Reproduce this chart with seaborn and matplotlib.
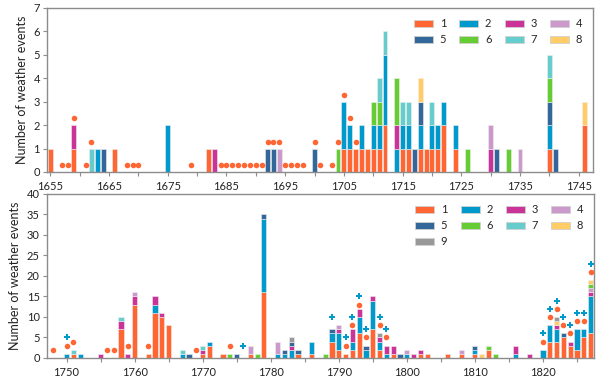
import pandas as pd
import matplotlib.pyplot as plt
from matplotlib.patches import Patch
import seaborn as sns

# event type colours (1..9)
type_colors = {
    '1': '#FF6633', '2': '#0099CC', '3': '#CC3399', '4': '#CC99CC',
    '5': '#336699', '6': '#66CC33', '7': '#66CCCC', '8': '#FFCC66',
    '9': '#999999',
}

# ---- upper panel: 1655-1746 ----
top_years = [1655, 1659, 1662, 1663, 1664, 1666, 1675, 1682, 1683, 1692,
             1693, 1694, 1700, 1704, 1705, 1706, 1707, 1708, 1709, 1710,
             1711, 1712, 1714, 1715, 1716, 1717, 1718, 1719, 1720, 1721,
             1722, 1724, 1726, 1730, 1731, 1733, 1735, 1740, 1741, 1746]
top_t1 = [1, 1, 0, 0, 0, 1, 0, 1, 0, 0, 0, 0, 0, 0, 1, 1, 1, 1, 1, 1,
          1, 2, 0, 1, 1, 0, 1, 1, 1, 1, 2, 1, 0, 0, 0, 0, 0, 1, 0, 2]
top_t2 = [0, 0, 0, 1, 0, 0, 2, 0, 0, 0, 0, 0, 0, 0, 2, 1, 0, 1, 0, 1,
          1, 3, 1, 1, 1, 0, 1, 0, 1, 1, 1, 1, 0, 0, 0, 0, 0, 1, 0, 0]
top_t3 = [0, 1, 0, 0, 0, 0, 0, 0, 1, 0, 0, 0, 0, 0, 0, 0, 0, 0, 0, 0,
          0, 0, 1, 0, 0, 0, 0, 0, 0, 0, 0, 0, 0, 1, 0, 0, 0, 0, 0, 0]
top_t4 = [0, 0, 0, 0, 0, 0, 0, 0, 0, 0, 0, 1, 0, 0, 0, 0, 0, 0, 0, 0,
          0, 0, 0, 0, 0, 0, 0, 0, 0, 0, 0, 0, 0, 1, 0, 0, 1, 0, 0, 0]
top_t5 = [0, 0, 0, 0, 1, 0, 0, 0, 0, 1, 1, 0, 1, 0, 0, 0, 0, 0, 0, 0,
          0, 0, 0, 0, 0, 1, 1, 0, 0, 0, 0, 0, 0, 0, 1, 0, 0, 1, 1, 0]
top_t6 = [0, 0, 0, 0, 0, 0, 0, 0, 0, 0, 0, 0, 0, 1, 0, 0, 0, 0, 0, 1,
          1, 0, 2, 0, 0, 0, 0, 0, 0, 0, 0, 0, 1, 0, 0, 1, 0, 1, 0, 0]
top_t7 = [0, 0, 1, 0, 0, 0, 0, 0, 0, 0, 0, 0, 0, 0, 0, 0, 0, 0, 0, 0,
          1, 1, 0, 1, 1, 0, 0, 0, 1, 0, 0, 0, 0, 0, 0, 0, 0, 1, 0, 0]
top_t8 = [0, 0, 0, 0, 0, 0, 0, 0, 0, 0, 0, 0, 0, 0, 0, 0, 0, 0, 0, 0,
          0, 0, 0, 0, 0, 0, 1, 0, 0, 0, 0, 0, 0, 0, 0, 0, 0, 0, 0, 1]

top_dot_years = [1657, 1658, 1659, 1661, 1662, 1668, 1669, 1670, 1679,
                 1684, 1685, 1686, 1687, 1688, 1689, 1690, 1691, 1692,
                 1693, 1694, 1695, 1696, 1697, 1698, 1700, 1701, 1703,
                 1704, 1705, 1706, 1707]
top_dot_vals = [0.3, 0.3, 2.3, 0.3, 1.3, 0.3, 0.3, 0.3, 0.3,
                0.3, 0.3, 0.3, 0.3, 0.3, 0.3, 0.3, 0.3, 1.3,
                1.3, 1.3, 0.3, 0.3, 0.3, 0.3, 1.3, 0.3, 0.3,
                1.3, 3.3, 2.3, 1.3]

# ---- lower panel: 1748-1827 ----
bot_years = [1750, 1751, 1752, 1755, 1758, 1759, 1760, 1762, 1763, 1764,
             1765, 1767, 1768, 1770, 1771, 1773, 1774, 1775, 1777, 1778,
             1779, 1781, 1782, 1783, 1784, 1786, 1788, 1789, 1790, 1791,
             1792, 1793, 1794, 1795, 1796, 1797, 1798, 1799, 1800, 1801,
             1802, 1803, 1806, 1808, 1810, 1811, 1812, 1813, 1816, 1818,
             1820, 1821, 1822, 1823, 1824, 1825, 1826, 1827]
bot_t1 = [0, 1, 0, 0, 7, 0, 13, 1, 11, 10,
          8, 0, 0, 1, 3, 1, 0, 0, 1, 0,
          16, 0, 0, 0, 1, 1, 0, 4, 2, 1,
          2, 6, 0, 7, 2, 0, 1, 0, 0, 0,
          1, 1, 1, 1, 1, 0, 2, 0, 0, 0,
          0, 4, 4, 5, 3, 2, 5, 6]
bot_t2 = [1, 0, 1, 0, 0, 0, 0, 0, 2, 0,
          0, 1, 0, 0, 1, 0, 0, 0, 0, 0,
          18, 1, 1, 2, 0, 3, 0, 2, 4, 0,
          2, 4, 2, 7, 2, 1, 0, 0, 1, 0,
          0, 0, 0, 0, 1, 0, 0, 0, 1, 0,
          2, 4, 3, 0, 0, 5, 2, 9]
bot_t3 = [0, 0, 0, 1, 2, 1, 2, 0, 2, 1,
          0, 0, 0, 1, 0, 0, 0, 0, 0, 0,
          0, 0, 0, 1, 0, 0, 0, 0, 1, 0,
          3, 2, 0, 1, 1, 2, 2, 0, 0, 1,
          1, 0, 0, 0, 0, 0, 0, 0, 2, 1,
          0, 0, 1, 0, 1, 0, 0, 1]
bot_t4 = [0, 0, 0, 0, 0, 0, 1, 0, 0, 0,
          0, 0, 0, 0, 0, 0, 0, 0, 2, 0,
          0, 3, 0, 0, 0, 0, 0, 0, 1, 0,
          0, 0, 0, 0, 0, 0, 0, 0, 1, 0,
          0, 0, 0, 1, 0, 0, 0, 0, 0, 0,
          0, 0, 0, 0, 0, 0, 0, 1]
bot_t5 = [0, 0, 0, 0, 0, 0, 0, 0, 0, 0,
          0, 0, 1, 0, 0, 0, 0, 1, 0, 0,
          1, 0, 1, 1, 1, 0, 0, 1, 0, 0,
          0, 0, 1, 0, 0, 0, 0, 1, 0, 0,
          0, 0, 0, 0, 1, 0, 0, 0, 0, 0,
          0, 0, 0, 1, 0, 0, 0, 0]
bot_t6 = [0, 0, 0, 0, 0, 0, 0, 0, 0, 0,
          0, 0, 0, 0, 0, 0, 1, 0, 0, 1,
          0, 0, 0, 0, 0, 0, 1, 0, 0, 0,
          0, 0, 0, 0, 0, 0, 0, 0, 0, 0,
          0, 0, 0, 0, 0, 0, 1, 1, 0, 0,
          0, 0, 0, 0, 0, 0, 0, 1]
bot_t7 = [0, 1, 0, 0, 1, 0, 0, 0, 0, 0,
          0, 1, 0, 1, 0, 0, 0, 0, 0, 0,
          0, 0, 0, 0, 0, 0, 0, 0, 0, 0,
          0, 0, 0, 0, 0, 0, 0, 0, 0, 0,
          0, 0, 0, 0, 0, 0, 0, 0, 0, 0,
          0, 0, 0, 0, 0, 0, 0, 0]
bot_t8 = [0, 0, 0, 0, 0, 0, 0, 0, 0, 0,
          0, 0, 0, 0, 0, 0, 0, 0, 0, 0,
          0, 0, 0, 0, 0, 0, 0, 0, 0, 0,
          0, 0, 0, 0, 0, 0, 0, 0, 0, 0,
          0, 0, 0, 0, 0, 1, 0, 0, 0, 0,
          0, 0, 1, 0, 0, 0, 0, 1]
bot_t9 = [0, 0, 0, 0, 0, 0, 0, 0, 0, 0,
          0, 0, 0, 0, 0, 0, 0, 0, 0, 0,
          0, 0, 0, 1, 0, 0, 0, 0, 0, 0,
          0, 0, 0, 0, 1, 0, 0, 0, 0, 0,
          0, 0, 0, 0, 0, 0, 0, 0, 0, 0,
          0, 0, 1, 0, 0, 0, 0, 0]

bot_dot_years = [1748, 1750, 1751, 1756, 1757, 1759, 1762, 1769, 1774,
                 1791, 1792, 1793, 1794, 1796, 1797, 1820, 1821, 1822,
                 1823, 1824, 1825, 1826, 1827]
bot_dot_vals = [2, 3, 4, 2, 2, 3, 3, 2, 3,
                3, 8, 13, 5, 8, 5, 4, 10, 12,
                8, 6, 9, 9, 21]
bot_plus_years = [1750, 1776, 1789, 1791, 1792, 1793, 1794, 1796, 1797,
                  1820, 1821, 1822, 1823, 1824, 1825, 1826, 1827]
bot_plus_vals = [5, 3, 10, 5, 10, 15, 7, 10, 7,
                 6, 12, 14, 10, 8, 11, 11, 23]


def to_long(years, series):
    rows = []
    for name, counts in series.items():
        for y, c in zip(years, counts):
            if c > 0:
                rows.append({'year': y, 'type': name, 'count': c})
    return pd.DataFrame(rows)


def draw_panel(ax, df, types, shrink):
    # seaborn stacks the first hue level on top, so reverse the order
    sns.histplot(data=df, x='year', weights='count', hue='type',
                 hue_order=types[::-1], palette=type_colors,
                 multiple='stack', discrete=True, shrink=shrink,
                 alpha=1, linewidth=0.4, edgecolor='#eeeeee',
                 legend=False, ax=ax)
    for p in ax.patches:
        if p.get_height() == 0:
            p.set_visible(False)
    # legend filled row by row (matplotlib fills columns first)
    order = []
    ncol = 4
    nrows = -(-len(types) // ncol)
    for c in range(ncol):
        for r in range(nrows):
            i = r * ncol + c
            if i < len(types):
                order.append(types[i])
    handles = [Patch(facecolor=type_colors[t], edgecolor='#d0d0d0',
                     linewidth=0.6, label=t) for t in order]
    ax.legend(handles=handles, ncol=ncol, loc='upper right', frameon=False,
              fontsize=8, handlelength=1.7, handleheight=0.6,
              columnspacing=1.2, handletextpad=0.6, labelspacing=0.45,
              borderaxespad=0.3, bbox_to_anchor=(0.995, 0.985))


sns.set_style('ticks')
plt.rcParams['font.family'] = ['Lato', 'DejaVu Sans']

fig = plt.figure(figsize=(6, 3.78), dpi=100)
ax1 = fig.add_axes([0.078, 0.545, 0.91, 0.434])
ax2 = fig.add_axes([0.078, 0.053, 0.912, 0.434])

top_types = ['1', '2', '3', '4', '5', '6', '7', '8']
top_df = to_long(top_years, {'1': top_t1, '2': top_t2, '3': top_t3,
                             '4': top_t4, '5': top_t5, '6': top_t6,
                             '7': top_t7, '8': top_t8})
draw_panel(ax1, top_df, top_types, 0.84)
sns.scatterplot(x=top_dot_years, y=top_dot_vals, color='#FF6633', s=16,
                linewidth=0, marker='o', ax=ax1, zorder=3)
ax1.set_xlim(1654.4, 1747.4)
ax1.set_ylim(0, 7)
ax1.set_xticks(range(1655, 1746, 10))
ax1.set_xticks(range(1660, 1746, 10), minor=True)

bot_types = ['1', '2', '3', '4', '5', '6', '7', '8', '9']
bot_df = to_long(bot_years, {'1': bot_t1, '2': bot_t2, '3': bot_t3,
                             '4': bot_t4, '5': bot_t5, '6': bot_t6,
                             '7': bot_t7, '8': bot_t8, '9': bot_t9})
draw_panel(ax2, bot_df, bot_types, 0.76)
sns.scatterplot(x=bot_dot_years, y=bot_dot_vals, color='#FF6633', s=16,
                linewidth=0, marker='o', ax=ax2, zorder=3)
sns.scatterplot(x=bot_plus_years, y=bot_plus_vals, color='#0099CC', s=22,
                linewidth=0, marker='P', ax=ax2, zorder=3)
ax2.set_xlim(1747.1, 1827.5)
ax2.set_ylim(0, 40)
ax2.set_yticks(range(0, 41, 5))
ax2.set_xticks(range(1750, 1821, 10))
ax2.set_xticks(range(1755, 1826, 10), minor=True)

for ax in (ax1, ax2):
    ax.set_xlabel('')
    ax.set_ylabel('Number of weather events', fontsize=9, color='#222222')
    for s in ax.spines.values():
        s.set_visible(True)
        s.set_color('#8c8c8c')
        s.set_linewidth(1.0)
    ax.tick_params(axis='both', which='both', colors='#8c8c8c',
                   labelcolor='#222222', labelsize=8, length=3, width=0.8)
    ax.tick_params(axis='y', pad=2)

fig.savefig('out.png', dpi=100)
